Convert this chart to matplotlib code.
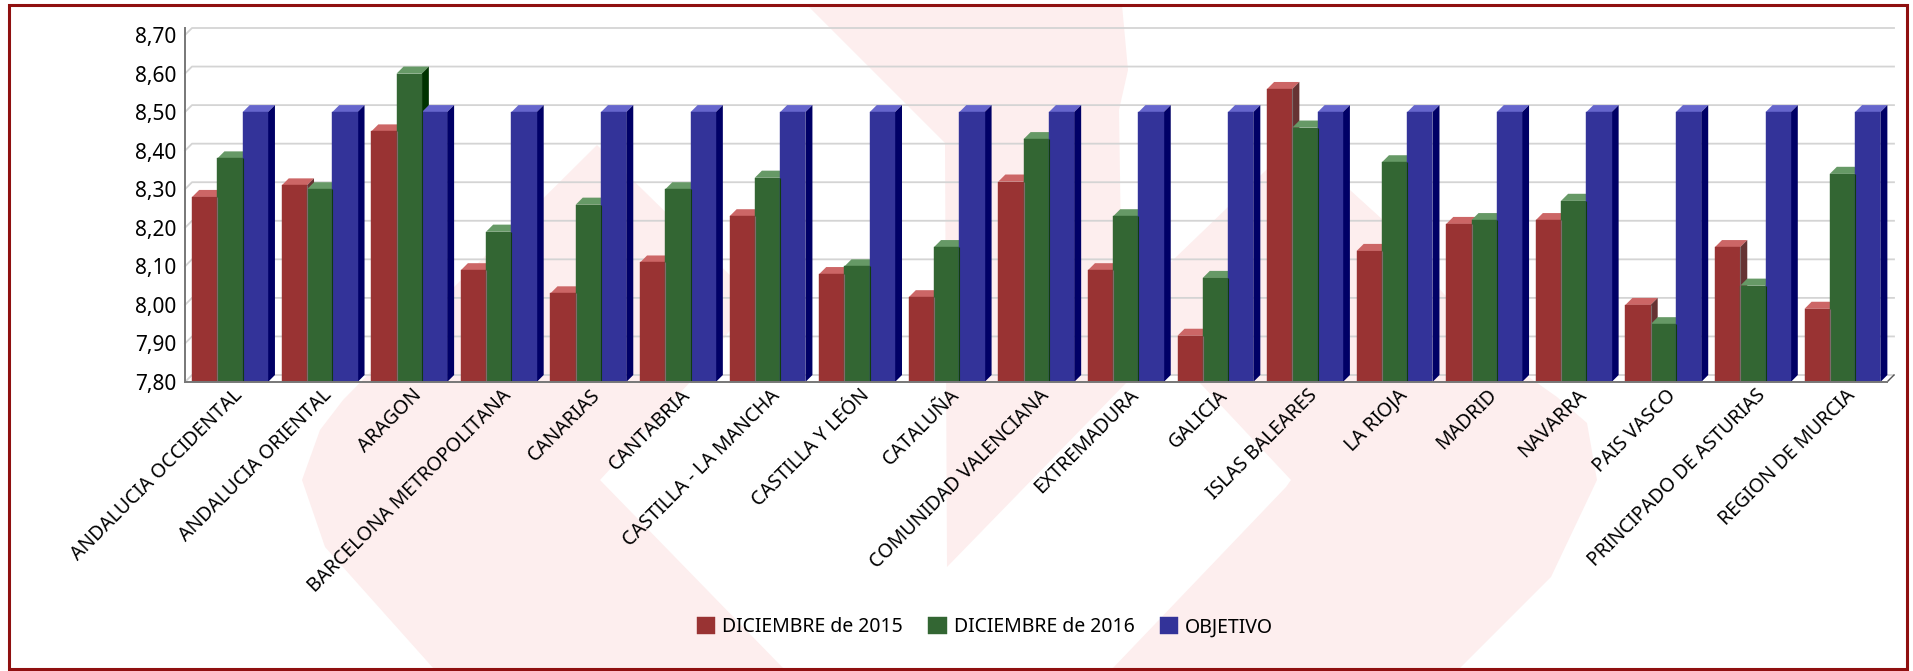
import matplotlib
matplotlib.use("Agg")
import matplotlib.pyplot as plt
from matplotlib.patches import Polygon, Rectangle
import numpy as np

W, H = 1913, 671

regions = ["ANDALUCIA OCCIDENTAL", "ANDALUCIA ORIENTAL", "ARAGON", "BARCELONA METROPOLITANA",
           "CANARIAS", "CANTABRIA", "CASTILLA - LA MANCHA", "CASTILLA Y LEÓN", "CATALUÑA",
           "COMUNIDAD VALENCIANA", "EXTREMADURA", "GALICIA", "ISLAS BALEARES", "LA RIOJA",
           "MADRID", "NAVARRA", "PAIS VASCO", "PRINCIPADO DE ASTURIAS", "REGION DE MURCIA"]
dic_2015 = [8.28, 8.31, 8.45, 8.09, 8.03, 8.11, 8.23, 8.08, 8.02, 8.32,
            8.09, 7.92, 8.56, 8.14, 8.21, 8.22, 8.00, 8.15, 7.99]
dic_2016 = [8.38, 8.30, 8.60, 8.19, 8.26, 8.30, 8.33, 8.10, 8.15, 8.43,
            8.23, 8.07, 8.46, 8.37, 8.22, 8.27, 7.95, 8.05, 8.34]
objetivo = [8.50] * 19
series_names = ["DICIEMBRE de 2015", "DICIEMBRE de 2016", "OBJETIVO"]
y_ticks = [7.8, 7.9, 8.0, 8.1, 8.2, 8.3, 8.4, 8.5, 8.6, 8.7]

# front, top, side colours of each series
colors = [("#993333", "#cc6666", "#663333"),
          ("#336633", "#669966", "#003300"),
          ("#333399", "#6666cc", "#000066")]
# thin line on the right edge of the front face
edge_colors = ["#7f6a6a", "#0f3d0f"]

plt.rcParams["font.family"] = ["Noto Sans", "DejaVu Sans"]
fig = plt.figure(figsize=(W / 100, H / 100), dpi=100)

# background layer in pixel coordinates: watermark and frame
bg = fig.add_axes([0, 0, 1, 1])
bg.set_xlim(0, W)
bg.set_ylim(H, 0)
bg.axis("off")
pink = "#fdeeee"
bg.add_patch(Polygon([(597, 145), (735, 280), (738, 320), (692, 380), (600, 480), (784, 669), (434, 669),
                      (325, 547), (302, 480), (320, 430), (343, 400), (461, 280)], fc=pink, ec="none"))
bg.add_patch(Polygon([(807, 5), (1122, 5), (1128, 70), (1119, 110), (1122, 310), (1173, 260), (1228, 207),
                      (1295, 142), (1350, 190), (1383, 220), (1443, 293), (1523, 373), (1557, 397),
                      (1587, 423), (1597, 480), (1551, 577), (1459, 669), (1112, 669), (1286, 487),
                      (1291, 480), (1199, 382), (1165, 372), (1127, 382), (947, 567), (945, 143)],
                     fc=pink, ec="none"))
bg.add_patch(Rectangle((8.5, 4.5), 1907 - 8.5, 669 - 4.5, fc="none", ec="#8f1010", lw=2.2))

# plot area, 7 px depth towards the upper right
x0, x1, y0, y1 = 185, 1887, 382, 35
ax = fig.add_axes([x0 / W, 1 - y0 / H, (x1 - x0) / W, (y0 - y1) / H])
ax.patch.set_alpha(0)
n = len(regions)
ax.set_xlim(0, n)
ax.set_ylim(7.8, 8.7)
dx = 7 / (x1 - x0) * n
dy = 7 / (y0 - y1) * 0.9

for t in y_ticks:
    ax.plot([0, dx, n + dx], [t, t + dy, t + dy], color="#d4d4d4", lw=1.3, clip_on=False, zorder=1)
ax.plot([n, n + dx], [7.8, 7.8 + dy], color="#555555", lw=1, clip_on=False, zorder=1)

bar_w = 0.282
start = 0.08
for j, vals in enumerate([dic_2015, dic_2016, objetivo]):
    front, top, side = colors[j]
    xs = np.arange(n) + start + j * bar_w
    ax.bar(xs, np.array(vals) - 7.8, bar_w, bottom=7.8, align="edge", color=front,
           edgecolor=front, lw=0.3, zorder=3 + 2 * j, label=series_names[j])
    for xi, v in zip(xs, vals):
        ax.add_patch(Polygon([(xi, v), (xi + dx, v + dy), (xi + bar_w + dx, v + dy), (xi + bar_w, v)],
                             fc=top, ec="none", zorder=2 + 2 * j, clip_on=False))
        ax.add_patch(Polygon([(xi + bar_w, 7.8), (xi + bar_w + dx, 7.8 + dy), (xi + bar_w + dx, v + dy), (xi + bar_w, v)],
                             fc=side, ec="none", zorder=2 + 2 * j, clip_on=False))
    if j < 2:
        ax.vlines(xs + bar_w, 7.8, vals, color=edge_colors[j], lw=0.8, zorder=9)

for s in ["top", "right"]:
    ax.spines[s].set_visible(False)
for s in ["left", "bottom"]:
    ax.spines[s].set_color("#777777")
    ax.spines[s].set_linewidth(1.4)
    ax.spines[s].set_zorder(10)
ax.spines["left"].set_bounds(7.8, 8.7 + dy)

ax.set_yticks(y_ticks)
ax.set_yticklabels([f"{t:.2f}".replace(".", ",") for t in y_ticks], fontsize=15, color="black")
ax.tick_params(axis="y", length=0, pad=6.5)
# labels sit a little right of the group centre
ax.set_xticks(np.arange(n) + 0.53)
ax.set_xticklabels(regions, rotation=45, ha="right", va="top", rotation_mode="anchor", fontsize=14, color="black")
ax.tick_params(axis="x", length=0, pad=2.5)

handles, labels = ax.get_legend_handles_labels()
fig.legend(handles, labels, loc="center", bbox_to_anchor=(985 / W, 1 - 627 / H), ncol=3, frameon=False,
           fontsize=14, handlelength=0.95, handleheight=1.0, handletextpad=0.36, columnspacing=1.3)

fig.savefig("out.png", dpi=100)
